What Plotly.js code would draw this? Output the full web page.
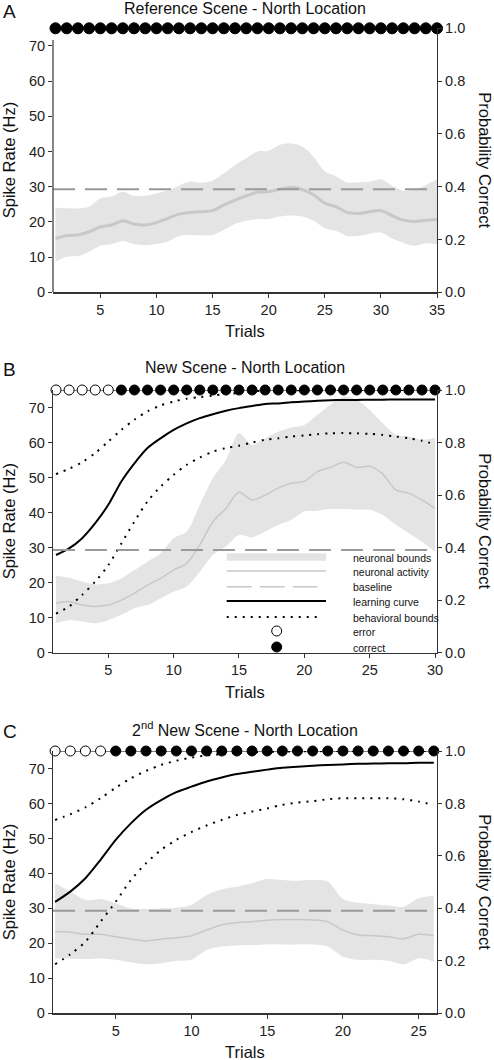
<!DOCTYPE html>
<html>
<head>
<meta charset="utf-8">
<script src="https://cdn.plot.ly/plotly-3.0.1.min.js"></script>
<style>html,body{margin:0;padding:0;background:#fff;}#chart{width:494px;height:1060px;}</style>
</head>
<body>
<div id="chart"></div>
<script>
// ---------------- DATA ----------------
const trialsA = [1,2,3,4,5,6,7,8,9,10,11,12,13,14,15,16,17,18,19,20,21,22,23,24,25,26,27,28,29,30,31,32,33,34,35];
const outcomeA = [1,1,1,1,1,1,1,1,1,1,1,1,1,1,1,1,1,1,1,1,1,1,1,1,1,1,1,1,1,1,1,1,1,1,1];
const meanA  = [15.3,16.1,16.3,17.2,18.6,19.1,20.3,19.4,19.1,19.8,21.0,22.2,22.7,22.9,23.2,24.8,26.2,27.4,28.4,28.6,29.3,29.8,29.2,27.7,25.3,24.3,22.7,22.4,22.9,23.2,21.8,20.5,20.1,20.5,20.7];
const upperA = [24.0,23.9,23.8,24.3,26.7,27.2,28.6,27.4,27.4,28.1,28.9,30.3,31.5,31.1,31.7,33.8,36.2,38.1,40.0,40.2,41.9,42.3,41.4,38.5,34.3,33.0,31.2,31.2,31.4,32.1,30.3,28.9,29.1,30.5,32.1];
const lowerA = [8.7,10.1,10.3,11.5,13.2,13.7,14.6,13.7,13.4,13.7,14.4,16.0,16.3,16.2,16.3,17.7,19.4,20.3,20.8,20.8,21.5,21.8,21.5,20.3,18.2,17.4,16.0,16.0,16.6,17.0,15.3,14.1,13.2,13.9,13.6];

const trialsB = [1,2,3,4,5,6,7,8,9,10,11,12,13,14,15,16,17,18,19,20,21,22,23,24,25,26,27,28,29,30];
const outcomeB = [0,0,0,0,0,1,1,1,1,1,1,1,1,1,1,1,1,1,1,1,1,1,1,1,1,1,1,1,1,1];
const meanB  = [14.1,14.6,13.6,13.2,13.6,15.0,17.0,19.3,21.2,23.6,25.5,30.8,37.4,41.2,45.8,43.6,45.0,47.0,48.4,48.9,51.7,52.9,54.4,52.9,53.2,51.0,46.5,45.5,43.6,41.2];
const upperB = [22.0,21.4,20.3,19.5,19.8,21.2,23.6,26.0,28.4,32.7,34.6,42.2,49.8,55.0,62.7,59.3,61.2,63.1,64.3,65.0,67.9,70.8,73.1,72.2,69.3,65.5,62.2,61.7,60.8,61.4];
const lowerB = [8.4,9.3,8.9,8.4,9.3,10.8,12.7,13.6,15.5,17.4,18.9,23.1,27.9,30.3,33.6,32.9,34.6,36.5,37.9,40.3,40.5,41.0,41.0,40.8,40.8,39.3,36.5,34.1,31.7,28.9];
const learnB = [0.372,0.397,0.436,0.493,0.563,0.652,0.721,0.779,0.816,0.848,0.873,0.893,0.908,0.921,0.931,0.939,0.947,0.949,0.953,0.956,0.959,0.961,0.962,0.962,0.963,0.963,0.964,0.964,0.964,0.964];
const behUpperB = [0.680,0.700,0.725,0.760,0.804,0.848,0.887,0.919,0.941,0.956,0.967,0.973,0.979,0.984,0.989,0.995,0.997,0.998,0.999,0.999,1.0,1.0,1.0,1.0,1.0,1.0,1.0,1.0,1.0,1.0];
const behLowerB = [0.149,0.176,0.220,0.271,0.333,0.416,0.499,0.576,0.632,0.677,0.715,0.743,0.765,0.779,0.788,0.800,0.811,0.816,0.823,0.827,0.832,0.835,0.836,0.835,0.833,0.829,0.823,0.816,0.807,0.793];

const trialsC = [1,2,3,4,5,6,7,8,9,10,11,12,13,14,15,16,17,18,19,20,21,22,23,24,25,26];
const outcomeC = [0,0,0,0,1,1,1,1,1,1,1,1,1,1,1,1,1,1,1,1,1,1,1,1,1,1];
const meanC  = [23.4,23.2,22.6,22.6,21.9,21.2,20.7,21.2,21.6,22.2,23.8,25.3,25.9,26.2,26.6,26.8,26.8,26.7,26.2,23.8,22.4,22.2,21.9,21.3,22.6,22.2];
const upperC = [37.2,34.8,32.4,32.7,31.5,30.0,29.8,30.0,30.2,31.0,33.8,35.5,36.2,37.2,38.4,38.1,37.9,38.1,37.7,32.7,31.6,31.2,30.8,30.5,32.9,33.7];
const lowerC = [15.7,15.7,15.5,15.7,15.3,14.6,14.0,14.3,15.0,15.3,18.1,19.1,19.4,19.5,19.7,19.7,19.7,19.7,19.1,16.2,15.3,15.3,15.0,14.0,15.7,14.8];
const learnC = [0.425,0.464,0.515,0.585,0.661,0.724,0.776,0.813,0.843,0.864,0.884,0.899,0.912,0.921,0.929,0.936,0.940,0.944,0.947,0.949,0.951,0.952,0.953,0.953,0.955,0.955];
const behUpperC = [0.737,0.759,0.785,0.820,0.860,0.896,0.924,0.947,0.963,0.975,0.983,0.988,0.993,0.995,0.997,0.998,0.999,0.999,1.0,1.0,1.0,1.0,1.0,1.0,1.0,1.0];
const behLowerC = [0.187,0.225,0.273,0.349,0.425,0.508,0.572,0.623,0.661,0.691,0.716,0.737,0.756,0.769,0.781,0.795,0.803,0.809,0.816,0.820,0.820,0.820,0.820,0.816,0.807,0.795];

const baselineHz = [29.3, 29.3, 29.3];
const outcomeLevel = 1.0;
const panelTitles = ["Reference Scene - North Location", "New Scene - North Location", "2<sup>nd</sup> New Scene - North Location"];
const panelLetters = ["A", "B", "C"];
const xTicks = [[5,10,15,20,25,30,35],[5,10,15,20,25,30],[5,10,15,20,25]];
const yTicksHz = [0,10,20,30,40,50,60,70];
const yTicksProb = [0,0.2,0.4,0.6,0.8,1.0];
const legendLabels = ["neuronal bounds","neuronal activity","baseline","learning curve","behavioral bounds","error","correct"];

// ---------------- STYLE / LAYOUT ----------------
const FONT = "Liberation Sans, Arial, sans-serif";
const BAND = "#e4e4e4", MEAN = "#c8c8c8", AX = "#333";
const H = 1060, L = 53, R = 57, PW = 494 - L - R;
const px2x = p => (p - L) / PW;
const py2y = p => 1 - p / H;

const panels = [
  {trials: trialsA, outcome: outcomeA, mean: meanA, up: upperA, lo: lowerA, meanW: 3, xr: [0.78, 35.0], top: 28.3, bot: 292.3, msize: 11, titleY: 8.5},
  {trials: trialsB, outcome: outcomeB, mean: meanB, up: upperB, lo: lowerB, learn: learnB, bu: behUpperB, bl: behLowerB, meanW: 1.5, xr: [0.77, 30.15], top: 390, bot: 652.7, msize: 10, titleY: 367},
  {trials: trialsC, outcome: outcomeC, mean: meanC, up: upperC, lo: lowerC, learn: learnC, bu: behUpperC, bl: behLowerC, meanW: 1.5, xr: [0.86, 26.21], top: 751, bot: 1013.3, msize: 10, titleY: 728.5}
];

const traces = [];
const layout = {
  width: 494, height: 1060,
  margin: {l: L, r: R, t: 0, b: 0},
  paper_bgcolor: "#fff", plot_bgcolor: "rgba(0,0,0,0)",
  showlegend: false,
  font: {family: FONT, color: "#222", size: 14.5},
  shapes: [], annotations: []
};

const axCommon = {showgrid: false, zeroline: false, ticks: "outside", ticklen: 4, tickwidth: 1, tickcolor: AX,
  linecolor: AX, linewidth: 1.2, tickfont: {family: FONT, size: 14.5, color: "#222"}, fixedrange: true};

panels.forEach((p, i) => {
  const xa = i === 0 ? "x" : "x" + (i + 1);
  const yL = i === 0 ? "y" : "y" + (2 * i + 1);
  const yR = "y" + (2 * i + 2);
  const xKey = i === 0 ? "xaxis" : "xaxis" + (i + 1);
  const yLKey = i === 0 ? "yaxis" : "yaxis" + (2 * i + 1);
  const yRKey = "yaxis" + (2 * i + 2);
  const dom = [py2y(p.bot), py2y(p.top)];

  layout[xKey] = Object.assign({}, axCommon, {domain: [0, 1], anchor: yL, range: p.xr, tickvals: xTicks[i], showline: true});
  layout[yLKey] = Object.assign({}, axCommon, {domain: dom, anchor: xa, range: [0, 75], tickvals: yTicksHz, showline: i !== 0});
  layout[yRKey] = Object.assign({}, axCommon, {overlaying: yL, side: "right", anchor: xa, range: [0, 1], tickvals: yTicksProb, tickformat: ".1f", showline: true});

  // neuronal bounds
  traces.push({x: p.trials, y: p.lo, xaxis: xa, yaxis: yL, mode: "lines", line: {width: 0, shape: "spline", smoothing: 0.8}, hoverinfo: "skip"});
  traces.push({x: p.trials, y: p.up, xaxis: xa, yaxis: yL, mode: "lines", fill: "tonexty", fillcolor: BAND, line: {width: 0, shape: "spline", smoothing: 0.8}, hoverinfo: "skip"});
  // neuronal activity
  traces.push({x: p.trials, y: p.mean, xaxis: xa, yaxis: yL, mode: "lines", line: {color: MEAN, width: p.meanW, shape: "spline", smoothing: 0.8}});
  // baseline
  layout.shapes.push({type: "line", xref: xa + " domain", yref: yL, x0: 0, x1: 1, y0: baselineHz[i], y1: baselineHz[i],
    line: {color: "#999", width: 2, dash: "22px,10px"}, layer: "above"});
  if (p.learn) {
    traces.push({x: p.trials, y: p.bu, xaxis: xa, yaxis: yR, mode: "lines", line: {color: "#000", width: 2, dash: "2px,6px", shape: "spline", smoothing: 0.8}});
    traces.push({x: p.trials, y: p.bl, xaxis: xa, yaxis: yR, mode: "lines", line: {color: "#000", width: 2, dash: "2px,6px", shape: "spline", smoothing: 0.8}});
    traces.push({x: p.trials, y: p.learn, xaxis: xa, yaxis: yR, mode: "lines", line: {color: "#000", width: 2, shape: "spline", smoothing: 0.8}});
  }
  // outcome circles
  traces.push({x: p.trials, y: p.trials.map(() => outcomeLevel), xaxis: xa, yaxis: yR, mode: "lines+markers", cliponaxis: false,
    line: {color: "#000", width: 1},
    marker: {size: p.msize, color: p.outcome.map(o => o ? "#000" : "#fff"), line: {color: "#000", width: 1}}});

  // left spine for panel A (stops below the circle row)
  if (i === 0) {
    layout.shapes.push({type: "line", xref: xa + " domain", yref: yL, x0: 0, x1: 0, y0: 0, y1: 71.7, line: {color: AX, width: 1.2}});
  }

  // titles and labels
  const mid = (dom[0] + dom[1]) / 2;
  layout.annotations.push({text: panelTitles[i], xref: "paper", yref: "paper", x: 0.5, y: py2y(p.titleY), xanchor: "center", yanchor: "middle", showarrow: false, font: {family: FONT, size: 16, color: "#111"}});
  layout.annotations.push({text: panelLetters[i], xref: "paper", yref: "paper", x: px2x(1), y: py2y(p.titleY + 2.5), xanchor: "left", yanchor: "middle", showarrow: false, font: {family: FONT, size: 19, color: "#111"}});
  layout.annotations.push({text: "Trials", xref: "paper", yref: "paper", x: 0.5, y: py2y(p.bot + 39), xanchor: "center", yanchor: "middle", showarrow: false, font: {family: FONT, size: 16.5, color: "#111"}});
  layout.annotations.push({text: "Spike Rate (Hz)", xref: "paper", yref: "paper", x: px2x(9), y: mid, xanchor: "center", yanchor: "middle", textangle: -90, showarrow: false, font: {family: FONT, size: 16.5, color: "#111"}});
  layout.annotations.push({text: "Probability Correct", xref: "paper", yref: "paper", x: px2x(485), y: mid, xanchor: "center", yanchor: "middle", textangle: 90, showarrow: false, font: {family: FONT, size: 16.5, color: "#111"}});
});

// ---------------- LEGEND (panel B) ----------------
const lgX0 = px2x(226.7), lgX1 = px2x(326), lgText = px2x(350.7);
const lgRows = [557, 571, 586.7, 601, 617, 631, 647];
layout.shapes.push({type: "rect", xref: "paper", yref: "paper", x0: lgX0, x1: lgX1, y0: py2y(560.7), y1: py2y(553.3), fillcolor: BAND, line: {width: 0}});
layout.shapes.push({type: "line", xref: "paper", yref: "paper", x0: lgX0, x1: lgX1, y0: py2y(lgRows[1]), y1: py2y(lgRows[1]), line: {color: MEAN, width: 1.5}});
layout.shapes.push({type: "line", xref: "paper", yref: "paper", x0: lgX0, x1: px2x(319), y0: py2y(lgRows[2]), y1: py2y(lgRows[2]), line: {color: "#c8c8c8", width: 1.5, dash: "25px,8px"}});
layout.shapes.push({type: "line", xref: "paper", yref: "paper", x0: lgX0, x1: lgX1, y0: py2y(lgRows[3]), y1: py2y(lgRows[3]), line: {color: "#000", width: 2}});
layout.shapes.push({type: "line", xref: "paper", yref: "paper", x0: lgX0, x1: px2x(322), y0: py2y(lgRows[4]), y1: py2y(lgRows[4]), line: {color: "#000", width: 2, dash: "2px,6px"}});
[[lgRows[5], "#fff"], [lgRows[6], "#000"]].forEach(([ry, col]) => {
  layout.shapes.push({type: "circle", xref: "paper", yref: "paper", xsizemode: "pixel", ysizemode: "pixel",
    xanchor: px2x(276.7), yanchor: py2y(ry), x0: -5, x1: 5, y0: -5, y1: 5, fillcolor: col, line: {color: "#000", width: 1}});
});
legendLabels.forEach((t, k) => {
  layout.annotations.push({text: t, xref: "paper", yref: "paper", x: lgText, y: py2y(lgRows[k] + 0.5), xanchor: "left", yanchor: "middle", showarrow: false, font: {family: FONT, size: 10.5, color: "#111"}});
});

Plotly.newPlot("chart", traces, layout, {displayModeBar: false, staticPlot: true});
</script>
</body>
</html>
